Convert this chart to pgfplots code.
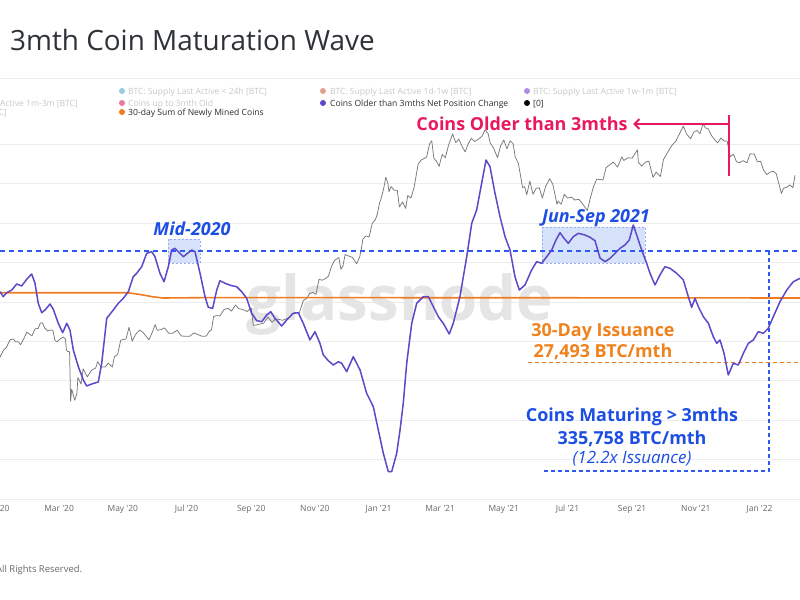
\documentclass[border=0pt]{standalone}
\usepackage{pgfplots}
\pgfplotsset{compat=1.18}
\usetikzlibrary{arrows.meta}
\usepackage{fontspec}
\setmainfont{Open Sans}
\newfontfamily\lab{Open Sans}[Ligatures=TeXOff]
\definecolor{purp}{RGB}{92,72,200}
\definecolor{orng}{RGB}{240,124,33}
\definecolor{pricec}{RGB}{120,120,120}
\definecolor{gridc}{RGB}{236,236,236}
\definecolor{titlec}{RGB}{45,49,56}
\definecolor{tickc}{RGB}{105,105,105}
\definecolor{legoff}{RGB}{200,200,200}
\definecolor{legon}{RGB}{45,45,45}
\definecolor{annblue}{RGB}{28,78,228}
\definecolor{dashblue}{RGB}{45,90,240}
\definecolor{annpink}{RGB}{232,25,93}
\definecolor{annorng}{RGB}{240,130,30}
\definecolor{boxfill}{RGB}{196,214,248}
\definecolor{wmark}{RGB}{229,229,229}
\definecolor{dotcyan}{RGB}{150,205,222}
\definecolor{dotsalm}{RGB}{222,160,145}
\definecolor{dotlpur}{RGB}{175,140,225}
\definecolor{dotpink}{RGB}{232,120,165}

\pgfplotstableread{
d v
3.35 65.4
6.5 33.6
9.8 59.0
14.6 76.1
19.4 114.2
24.1 101.5
28.9 144.0
33.7 177.7
36.9 118.7
40.0 -8.2
43.3 -67.9
46.5 -50.8
51.3 -12.7
54.4 -46.3
59.2 -135.1
63.4 -194.8
67.3 -135.1
70.4 -177.7
73.6 -304.6
78.4 -410.5
83.2 -494.9
86.4 -533.0
91.2 -520.3
97.5 -507.6
100.8 -389.0
105.6 -103.4
111.9 -50.8
116.7 -8.2
121.5 23.5
126.3 65.4
131.0 160.5
134.3 182.1
139.1 224.0
143.9 309.0
148.7 319.2
151.8 287.4
156.6 182.1
160.5 128.8
164.6 224.0
167.8 329.9
171.0 340.7
179.0 287.4
187.0 329.9
190.2 319.2
195.0 182.1
199.8 33.6
202.9 -33.6
207.1 -40.0
211.0 76.1
214.1 135.1
218.9 118.7
225.3 103.4
230.1 97.1
234.9 65.4
239.7 23.5
244.5 -71.7
249.3 -118.7
254.1 -125.0
258.9 -82.5
262.7 -61.6
266.8 -103.4
273.2 -152.3
278.0 -114.2
284.3 -71.7
289.1 -67.9
293.9 -135.1
300.3 -241.1
305.1 -188.4
309.9 -262.0
313.1 -336.3
317.9 -372.4
322.7 -399.7
327.5 -378.8
330.7 -388.9
335.5 -442.2
341.8 -347.1
348.3 -431.5
354.6 -579.3
361.0 -664.3
365.8 -812.2
370.6 -960.0
375.4 -1076.7
378.6 -1076.7
383.4 -960.0
386.6 -812.2
389.7 -642.7
393.0 -388.9
397.8 -135.1
402.6 -8.2
408.9 33.6
413.7 33.6
418.5 -29.8
423.3 -93.3
428.0 -135.1
433.8 -203.0
437.6 -135.1
444.0 33.6
450.5 287.4
455.3 499.4
460.0 583.7
464.8 753.2
469.0 901.0
472.8 858.5
477.6 689.7
482.4 541.2
487.2 414.3
492.0 329.9
496.7 160.5
500.9 76.1
506.3 107.9
512.7 203.0
517.5 255.7
522.3 245.6
527.1 287.4
531.9 329.9
536.0 393.4
539.9 439.7
543.7 404.2
547.8 372.4
552.6 414.3
557.4 435.9
563.8 425.1
568.6 410.5
573.4 388.9
578.2 279.2
583.0 255.7
587.8 277.3
592.6 309.0
597.4 340.7
602.1 361.7
606.2 393.4
610.1 488.6
613.9 414.3
618.1 329.9
622.9 245.6
626.1 182.1
630.9 107.9
635.6 171.3
640.4 224.0
645.2 213.8
651.7 182.1
658.0 139.6
662.8 33.6
666.0 -33.6
669.2 23.5
672.4 -29.8
677.2 -93.3
682.0 -135.1
686.7 -220.2
690.0 -262.0
693.2 -241.1
697.0 -325.5
701.1 -463.2
705.9 -388.9
710.7 -399.7
715.5 -325.5
720.3 -262.0
725.1 -241.1
729.8 -188.4
734.6 -198.6
739.4 -166.9
744.2 -93.3
750.6 1.9
757.1 76.1
763.4 128.8
769.8 150.4
}\older

\pgfplotstableread{
d v
3.35 59.0
126 59.0
137.5 47.6
150 33
159.5 25.4
195 27.3
386.6 27.3
600 26.5
769.8 25.4
}\issuance

\pgfplotstableread{
d p
2 7340
5 7760
7 8050
9 8170
13 8840
16 8910
18 8700
21 8660
23 8440
26 8900
29 9500
31 9370
34 9180
37 9800
40 9850
42 10350
44 10370
46 9900
49 9600
51 9690
54 9660
56 8790
58 8690
61 8910
64 9080
66 8900
67 8040
68 7930
70 7900
71 4970
72 5560
75 5010
77 5330
78 6200
81 5830
83 6730
87 6240
91 6640
95 6780
97 7200
100 6860
104 6840
107 7100
111 6850
113 7550
116 7700
119 8800
121 8860
124 8900
127 9950
130 8730
133 9270
137 9670
140 9520
143 9170
146 8840
149 9430
152 10200
154 9660
158 9750
161 9890
165 9400
169 9400
173 9680
177 9160
181 9140
185 9130
189 9430
193 9290
197 9130
201 9160
204 9600
206 9700
208 11000
211 11100
214 11060
218 11750
222 11880
225 11570
229 12250
232 11860
236 11750
240 11530
244 11920
246 10130
248 10150
252 10240
256 10330
260 10950
264 10420
267 10750
271 10700
274 10620
278 10790
281 10920
283 11300
287 11430
290 11350
294 12800
297 13030
300 13650
303 13800
306 13550
309 15590
312 15480
315 15700
318 16070
321 17650
324 18680
328 19150
330 17150
332 17730
334 19700
337 19450
341 19190
345 18050
348 19270
350 21300
351 22800
354 23470
357 23240
360 26440
363 27360
365 28990
367 32130
368 32780
371 36770
373 40780
375 38350
376 35570
378 37320
381 36070
384 36010
386 30830
389 32290
392 30400
394 34300
397 33500
400 36900
404 46200
407 47900
410 48700
412 49200
415 55900
417 57400
419 48800
422 47000
424 45100
427 50500
430 48900
433 54900
437 61200
440 56400
443 58300
446 54500
449 51700
452 55900
455 58800
458 57000
461 58000
465 59800
468 63500
471 61400
473 56200
476 53800
480 49000
483 54800
486 57800
489 53200
492 57400
495 55800
497 49200
500 46400
504 37000
506 37300
508 34600
511 39300
514 34700
517 36700
520 36900
523 33500
526 37300
530 40200
533 38100
537 31600
538 32500
541 31600
544 34700
547 33500
551 33800
554 32900
558 33100
562 31500
566 29800
569 33600
572 37300
575 40000
578 39900
581 39700
584 44600
587 45600
591 47000
595 44800
599 49300
601 47700
605 48900
609 48800
614 52700
615 46900
618 45200
622 47100
625 47300
629 40700
632 42800
636 41000
639 48100
643 51500
647 54900
651 57300
654 60900
658 65900
661 61300
665 58500
668 62300
671 63200
674 61400
677 67500
679 64900
682 64100
685 60300
688 58000
691 56300
694 58900
697 57300
700 57200
703 49400
706 50600
709 47100
712 46700
715 47600
719 46700
722 50800
726 50600
729 47100
732 47300
735 43500
738 41800
741 42700
744 43100
747 42200
751 36300
752 35000
754 36700
757 37100
760 37900
763 36900
765 41500
}\price

\pgfplotsset{
  base/.style={at={(0bp,-499bp)}, anchor=south west, scale only axis,
    width=800bp, height=381bp, xmin=3.35, xmax=769.8}
}

\begin{document}
\begin{tikzpicture}
\begin{scope}[x=1bp,y=-1bp]
\fill[white] (0,0) rectangle (800,600);

% title
\node[anchor=base west, inner sep=0pt, text=titlec, font=\fontsize{28}{32}\selectfont] at (10,50) {3mth Coin Maturation Wave};
\draw[gridc, line width=0.8bp] (0,78) -- (800,78);

% legend
\begin{scope}[every node/.style={anchor=base west, inner sep=0pt, font=\fontsize{8.6}{9}\selectfont}]
\fill[dotcyan] (122,91) circle (3);
\node[text=legoff] at (128,94) {BTC: Supply Last Active < 24h [BTC]};
\fill[dotsalm] (323,91) circle (3);
\node[text=legoff] at (330,94) {BTC: Supply Last Active 1d-1w [BTC]};
\fill[dotlpur] (527,91) circle (3);
\node[text=legoff] at (533,94) {BTC: Supply Last Active 1w-1m [BTC]};
\node[text=legoff, anchor=base east] at (78,106) {Last Active 1m-3m [BTC]};
\fill[dotpink] (122,103) circle (3);
\node[text=legoff] at (128,106) {Coins up to 3mth Old};
\fill[purp] (323,103) circle (3);
\node[text=legon] at (330,106) {Coins Older than 3mths Net Position Change};
\fill[black] (527,103) circle (3);
\node[text=legon] at (533,106) {[0]};
\node[text=legoff, anchor=base east] at (7,115) {C]};
\fill[orng] (122,112) circle (3);
\node[text=legon] at (128,115) {30-day Sum of Newly Mined Coins};
\end{scope}
\end{scope}

% grid + x axis
\begin{axis}[base, ymin=-1250, ymax=1167.5,
  axis line style={draw=none},
  ymajorgrids, ytick={-1250,-1000,...,1000}, yticklabels={},
  major grid style={gridc, line width=0.7bp},
  major tick length=0pt,
  xtick={60,121,182,244,305,366,425,486,547,609,670,731},
  xticklabels={Mar '20,May '20,Jul '20,Sep '20,Nov '20,Jan '21,Mar '21,May '21,Jul '21,Sep '21,Nov '21,Jan '22},
  xticklabel style={font=\lab\fontsize{8.5}{9}\selectfont, text=tickc, inner sep=0pt, anchor=north, yshift=-6bp},
]
\addplot[draw=none] coordinates {(100,0)};
\end{axis}

\begin{scope}[x=1bp,y=-1bp]
\node[anchor=north, inner sep=0pt, font=\lab\fontsize{8.5}{9}\selectfont, text=tickc] at (-3.5,505) {Jan '20};
% watermark
\node[anchor=base, inner sep=0pt, text=wmark, font=\bfseries\fontsize{62}{66}\selectfont] at (400,320) {glassnode};
\end{scope}

% price (log)
\begin{axis}[base, ymode=log, ymin=1980, ymax=71110, axis lines=none]
\addplot[pricec, line width=0.75bp, line join=round] table[x=d, y=p] {\price};
\end{axis}

\begin{scope}[x=1bp,y=-1bp]
% highlight boxes
\filldraw[fill=boxfill, fill opacity=0.7, draw=dashblue!50, dash pattern=on 2bp off 2bp, line width=0.5bp] (168,239) rectangle (200,263);
\filldraw[fill=boxfill, fill opacity=0.7, draw=dashblue!50, dash pattern=on 2bp off 2bp, line width=0.5bp] (542,227) rectangle (645,263);
% dashed reference lines
\draw[draw=dashblue, line width=1.2bp, dash pattern=on 5bp off 4bp] (0,251) -- (800,251);
\draw[draw=dashblue, line width=1.2bp, dash pattern=on 4bp off 3bp] (769,251) -- (769,471) -- (541,471);
\draw[draw=orng, line width=1bp, dash pattern=on 4bp off 3bp] (528,362) -- (800,362);
\end{scope}

% main series
\begin{axis}[base, ymin=-1250, ymax=1167.5, axis lines=none]
\addplot[orng, line width=1.6bp, line join=round] table[x=d, y=v] {\issuance};
\addplot[purp, line width=1.5bp, line join=round] table[x=d, y=v] {\older};
\end{axis}

\begin{scope}[x=1bp,y=-1bp]
% annotations
\begin{scope}[every node/.style={inner sep=0pt, anchor=base, font=\bfseries\fontsize{18}{20}\selectfont}]
\node[text=annblue, font=\bfseries\itshape\fontsize{18}{20}\selectfont] at (192,235) {Mid-2020};
\node[text=annblue, font=\bfseries\itshape\fontsize{18}{20}\selectfont] at (596,222) {Jun-Sep 2021};
\node[text=annpink] at (522,130) {Coins Older than 3mths};
\node[text=annorng] at (603,336) {30-Day Issuance};
\node[text=annorng] at (603,357) {27,493 BTC/mth};
\node[text=annblue] at (632,421) {Coins Maturing > 3mths};
\node[text=annblue] at (632,444) {335,758 BTC/mth};
\node[text=annblue, font=\itshape\fontsize{17}{20}\selectfont] at (632,463) {(12.2x Issuance)};
\end{scope}
\draw[annpink, line width=2bp, -{Straight Barb[length=5bp, width=10bp]}] (729,124) -- (633,124);
\draw[annpink, line width=2bp] (729,115) -- (729,176);
% footer
\node[anchor=base west, inner sep=0pt, text=tickc, font=\fontsize{9.5}{11}\selectfont] at (-4,572) {All Rights Reserved.};
\end{scope}
\pgfresetboundingbox
\path[use as bounding box] (0bp,0bp) rectangle (800bp,-600bp);
\end{tikzpicture}
\end{document}
